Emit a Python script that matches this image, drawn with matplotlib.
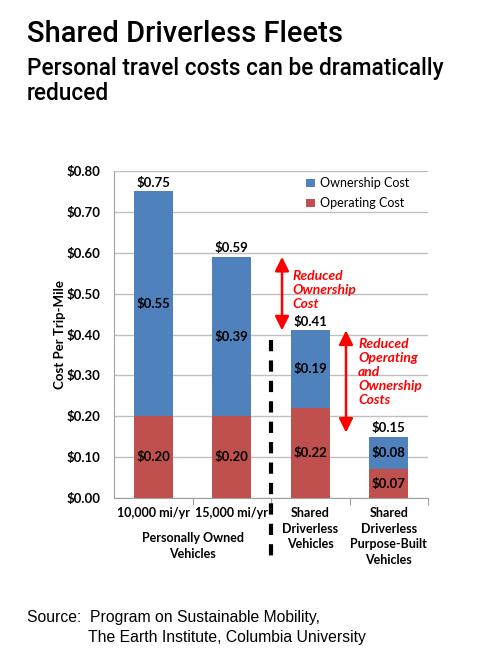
import matplotlib.pyplot as plt

categories = ["10,000 mi/yr", "15,000 mi/yr", "Shared\nDriverless\nVehicles",
              "Shared\nDriverless\nPurpose-Built\nVehicles"]
operating = [0.20, 0.20, 0.22, 0.07]
ownership = [0.55, 0.39, 0.19, 0.08]
totals = [0.75, 0.59, 0.41, 0.15]
yticks = [0.0, 0.1, 0.2, 0.3, 0.4, 0.5, 0.6, 0.7, 0.8]

blue = '#4F81BD'
red = '#C0504D'
lab_font = 'Lato'
head_font = 'Roboto'

fig = plt.figure(figsize=(4.78, 6.54), dpi=100)
ax = fig.add_axes([0.2385, 0.2385, 0.657, 0.5])

x = list(range(len(categories)))
ax.bar(x, operating, width=0.5, color=red, label='Operating Cost', zorder=3)
ax.bar(x, ownership, width=0.5, bottom=operating, color=blue, label='Ownership Cost', zorder=3)

for i in x:
    ax.text(i, operating[i] / 2, f"${operating[i]:.2f}", ha='center', va='center',
            fontsize=9.5, fontweight='bold', family=lab_font, zorder=4)
    ax.text(i, operating[i] + ownership[i] / 2, f"${ownership[i]:.2f}", ha='center', va='center',
            fontsize=9.5, fontweight='bold', family=lab_font, zorder=4)
    ax.text(i, totals[i] + 0.006, f"${totals[i]:.2f}", ha='center', va='bottom',
            fontsize=9.5, fontweight='bold', family=lab_font, zorder=4)

ax.set_xlim(-0.5, 3.5)
ax.set_ylim(0, 0.8)
ax.set_yticks(yticks)
ax.set_yticklabels([f"${v:.2f}" for v in yticks], fontsize=9.5, fontweight='bold', family=lab_font)
ax.yaxis.grid(True, color='#BFBFBF', linewidth=1, zorder=0)
ax.set_axisbelow(True)
for s in ['top', 'right']:
    ax.spines[s].set_visible(False)
ax.spines['left'].set_color('#A0A0A0')
ax.spines['bottom'].set_color('#A0A0A0')
ax.tick_params(axis='y', length=0, pad=10)
ax.set_ylabel('Cost Per Trip-Mile', fontsize=9.5, fontweight='bold', family=lab_font)
ax.yaxis.set_label_coords(-0.152, 0.5)

# category ticks between groups
ax.set_xticks([0.5, 1.5, 2.5, 3.5])
ax.set_xticklabels([])
ax.tick_params(axis='x', length=5, color='#A0A0A0', direction='out')

for i in x:
    ax.text(i, -0.022, categories[i], ha='center', va='top', fontsize=9,
            fontweight='bold', family=lab_font, linespacing=1.35)
ax.text(0.5, -0.084, "Personally Owned\nVehicles", ha='center', va='top', fontsize=9,
        fontweight='bold', family=lab_font, linespacing=1.35)

# dashed separator
ax.plot([1.5, 1.5], [0.387, -0.147], color='black', linewidth=3,
        linestyle=(0, (2.7, 2.2)), clip_on=False, zorder=5, solid_capstyle='butt')

# arrows
arrow_style = dict(arrowstyle='<|-|>,head_length=0.7,head_width=0.35', color='#FF0000',
                   lw=1.8, mutation_scale=12, shrinkA=0, shrinkB=0)
ax.annotate('', xy=(1.64, totals[1]), xytext=(1.64, totals[2]), arrowprops=arrow_style)
ax.annotate('', xy=(2.455, totals[2]), xytext=(2.455, 0.16), arrowprops=arrow_style)
ax.text(1.77, 0.558, "Reduced\nOwnership\nCost", ha='left', va='top', color='#FF0000',
        fontsize=10, fontweight='bold', style='italic', family=lab_font, linespacing=1.2)
ax.text(2.61, 0.391, "Reduced\nOperating\nand\nOwnership\nCosts", ha='left', va='top',
        color='#FF0000', fontsize=10, fontweight='bold', style='italic', family=lab_font,
        linespacing=1.2)

handles, labels = ax.get_legend_handles_labels()
leg = ax.legend(handles[::-1], labels[::-1], loc='upper right', bbox_to_anchor=(0.975, 1.015),
                frameon=False, handlelength=0.7, handleheight=0.7, handletextpad=0.4,
                labelspacing=0.65, prop={'family': lab_font, 'size': 9})

fig.text(0.056, 0.936, "Shared Driverless Fleets", fontsize=21, family=head_font,
         fontweight='medium', ha='left', va='baseline')
fig.text(0.056, 0.885, "Personal travel costs can be dramatically", fontsize=16.3,
         family=head_font, fontweight='medium', ha='left', va='baseline')
fig.text(0.056, 0.847, "reduced", fontsize=16.3,
         family=head_font, fontweight='medium', ha='left', va='baseline')
fig.text(0.056, 0.049, "Source:  Program on Sustainable Mobility,", fontsize=11.3,
         family='Liberation Sans', ha='left', va='baseline')
fig.text(0.184, 0.018, "The Earth Institute, Columbia University", fontsize=11.3,
         family='Liberation Sans', ha='left', va='baseline')

plt.savefig('out.png', dpi=100)
plt.close(fig)
